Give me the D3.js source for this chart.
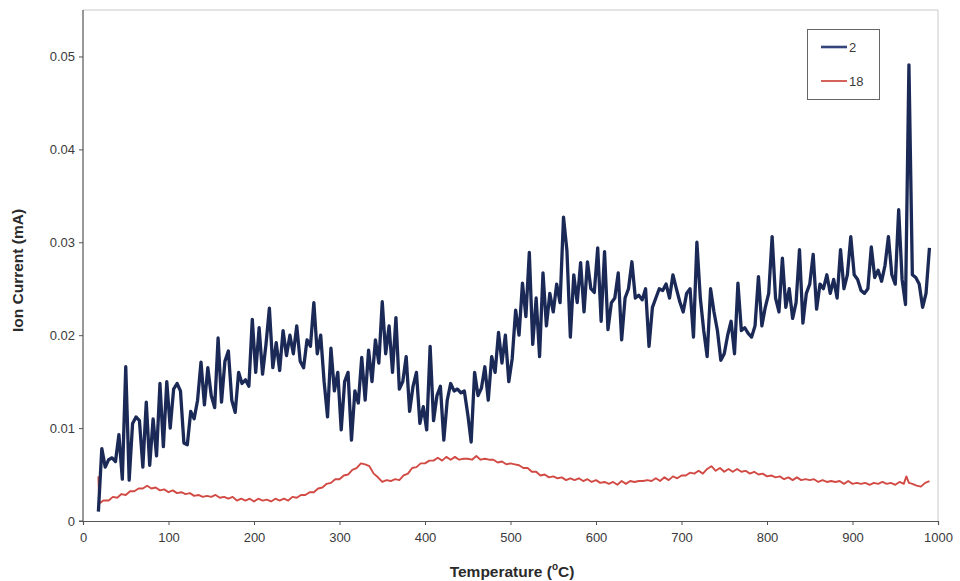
<!DOCTYPE html>
<html>
<head>
<meta charset="utf-8">
<script src="https://cdn.jsdelivr.net/npm/d3@7"></script>
<style>
  html, body { margin: 0; padding: 0; background: #fff; }
  svg { display: block; font-family: "Liberation Sans", Arial, sans-serif; }
</style>
</head>
<body>
<svg id="chart" width="960" height="581"></svg>
<script>
// Ion current traces (mA) versus temperature (°C), mass channels 2 and 18.
const temps2 = [18,22,26,30,34,38,42,46,50,54,58,62,66,70,74,78,82,86,90,94,98,102,106,110,114,118,122,126,130,134,138,142,146,150,154,158,162,166,170,174,178,182,186,190,194,198,202,206,210,214,218,222,226,230,234,238,242,246,250,254,258,262,266,270,274,278,282,286,290,294,298,302,306,310,314,318,322,326,330,334,338,342,346,350,354,358,362,366,370,374,378,382,386,390,394,398,402,406,410,414,418,422,426,430,434,438,442,446,450,454,458,462,466,470,474,478,482,486,490,494,498,502,506,510,514,518,522,526,530,534,538,542,546,550,554,558,562,566,570,574,578,582,586,590,594,598,602,606,610,614,618,622,626,630,634,638,642,646,650,654,658,662,666,670,674,678,682,686,690,694,698,702,706,710,714,718,722,726,730,734,738,742,746,750,754,758,762,766,770,774,778,782,786,790,794,798,802,806,810,814,818,822,826,830,834,838,842,846,850,854,858,862,866,870,874,878,882,886,890,894,898,902,906,910,914,918,922,926,930,934,938,942,946,950,954,958,962,966,970,974,978,982,986,990];

const current2 = [
  .0010,.0078,.0058,.0066,.0068,.0064,.0093,.0045,.0166,.0044,
  .0105,.0112,.0108,.0058,.0128,.0060,.0110,.0070,.0148,.0080,
  .0150,.0100,.0142,.0148,.0140,.0084,.0082,.0118,.0110,.0130,
  .0171,.0125,.0165,.0135,.0122,.0197,.0128,.0172,.0183,.0130,
  .0117,.0160,.0148,.0152,.0145,.0217,.0160,.0208,.0158,.0190,
  .0229,.0165,.0192,.0162,.0205,.0178,.0200,.0180,.0210,.0172,
  .0165,.0195,.0188,.0235,.0180,.0200,.0150,.0112,.0186,.0140,
  .0160,.0098,.0150,.0160,.0087,.0140,.0127,.0176,.0130,.0184,
  .0150,.0195,.0170,.0236,.0180,.0210,.0160,.0219,.0142,.0150,
  .0177,.0118,.0145,.0160,.0105,.0123,.0098,.0188,.0108,.0135,
  .0145,.0087,.0130,.0148,.0140,.0142,.0138,.0140,.0115,.0085,
  .0160,.0135,.0143,.0166,.0130,.0177,.0160,.0203,.0170,.0200,
  .0150,.0175,.0227,.0200,.0256,.0220,.0289,.0190,.0240,.0177,
  .0267,.0210,.0245,.0225,.0255,.0235,.0327,.0291,.0198,.0265,
  .0235,.0278,.0225,.0279,.0250,.0246,.0294,.0215,.0290,.0206,
  .0235,.0240,.0267,.0195,.0240,.0250,.0279,.0240,.0243,.0238,
  .0250,.0188,.0230,.0240,.0250,.0248,.0255,.0240,.0265,.0250,
  .0236,.0225,.0245,.0250,.0198,.0300,.0240,.0205,.0177,.0250,
  .0225,.0205,.0173,.0180,.0200,.0215,.0180,.0256,.0205,.0208,
  .0202,.0198,.0210,.0263,.0210,.0230,.0245,.0306,.0240,.0225,
  .0283,.0230,.0250,.0218,.0235,.0292,.0213,.0245,.0255,.0287,
  .0228,.0255,.0250,.0265,.0245,.0260,.0240,.0292,.0250,.0265,
  .0306,.0265,.0260,.0248,.0245,.0250,.0295,.0262,.0270,.0258,
  .0275,.0306,.0265,.0255,.0335,.0260,.0233,.0491,.0265,.0262,
  .0255,.0230,.0245,.0294
];

const temps18 = [18,19,24,30,35,40,45,50,55,60,65,70,75,80,85,90,95,100,105,110,115,120,125,130,135,140,145,150,155,160,165,170,175,180,185,190,195,200,205,210,215,220,225,230,235,240,245,250,255,260,265,270,275,280,285,290,295,300,305,310,315,320,325,330,335,340,345,350,355,360,365,370,375,380,385,390,395,400,405,410,415,420,425,430,435,440,445,450,455,460,465,470,475,480,485,490,495,500,505,510,515,520,525,530,535,540,545,550,555,560,565,570,575,580,585,590,595,600,605,610,615,620,625,630,635,640,645,650,655,660,665,670,675,680,685,690,695,700,705,710,715,720,725,730,735,740,745,750,755,760,765,770,775,780,785,790,795,800,805,810,815,820,825,830,835,840,845,850,855,860,865,870,875,880,885,890,895,900,905,910,915,920,925,930,935,940,945,950,955,960,963,966,970,975,980,985,990];

const current18 = [
  .0048,.0019,.0022,.0022,.0026,.0025,.0029,.0028,.0032,.0032,
  .0035,.0035,.0038,.0035,.0036,.0033,.0034,.0031,.0033,.0030,
  .0031,.0029,.0030,.0027,.0028,.0026,.0027,.0026,.0028,.0025,
  .0026,.0024,.0026,.0022,.0024,.0022,.0024,.0021,.0024,.0022,
  .0023,.0021,.0024,.0022,.0024,.0022,.0026,.0025,.0028,.0028,
  .0031,.0031,.0035,.0036,.0040,.0041,.0045,.0045,.0049,.0050,
  .0055,.0057,.0062,.0061,.0059,.0051,.0047,.0042,.0044,.0043,
  .0045,.0044,.0049,.0051,.0057,.0058,.0062,.0062,.0065,.0065,
  .0068,.0065,.0069,.0066,.0069,.0066,.0067,.0067,.0066,.0070,
  .0066,.0067,.0066,.0066,.0063,.0064,.0061,.0062,.0061,.0060,
  .0057,.0057,.0053,.0053,.0049,.0050,.0047,.0048,.0046,.0047,
  .0044,.0046,.0044,.0046,.0043,.0045,.0042,.0044,.0041,.0042,
  .0040,.0042,.0039,.0043,.0040,.0043,.0042,.0043,.0043,.0044,
  .0043,.0046,.0043,.0047,.0044,.0048,.0046,.0049,.0049,.0052,
  .0051,.0054,.0051,.0056,.0059,.0054,.0057,.0053,.0056,.0053,
  .0056,.0053,.0054,.0051,.0053,.0050,.0051,.0048,.0049,.0047,
  .0048,.0045,.0047,.0044,.0047,.0044,.0045,.0044,.0045,.0042,
  .0044,.0042,.0043,.0042,.0043,.0040,.0043,.0040,.0041,.0040,
  .0041,.0039,.0041,.0040,.0042,.0040,.0041,.0039,.0042,.0040,
  .0048,.0041,.0040,.0038,.0037,.0041,.0043
];

const xTicks = [0,100,200,300,400,500,600,700,800,900,1000];
const yTicks = [0,0.01,0.02,0.03,0.04,0.05];
const seriesNames = ["2","18"];
const seriesColors = ["#1b2957","#d24a44"];

const svg = d3.select("#chart");
const m = { left: 83, right: 938, top: 10, bottom: 521 };

const x = d3.scaleLinear().domain([0, 1000]).range([m.left, m.right]);
const y = d3.scaleLinear().domain([0, 0.055]).range([m.bottom, m.top]);

// light frame on the top and right of the plot area
svg.append("path")
  .attr("d", `M${m.left},${m.top}H${m.right}V${m.bottom}`)
  .attr("fill", "none").attr("stroke", "#c8c8c8").attr("stroke-width", 1);

const line = d3.line().x(d => x(d[0])).y(d => y(d[1]));

const data18 = temps18.map((t, i) => [t, current18[i]]).filter(d => d[1] != null);
const data2 = temps2.map((t, i) => [t, current2[i]]).filter(d => d[1] != null);

svg.append("path").datum(data18)
  .attr("d", line).attr("fill", "none")
  .attr("stroke", seriesColors[1]).attr("stroke-width", 1.9)
  .attr("stroke-linejoin", "round");

svg.append("path").datum(data2)
  .attr("d", line).attr("fill", "none")
  .attr("stroke", seriesColors[0]).attr("stroke-width", 3.3)
  .attr("stroke-linejoin", "round");

// axes
const axisColor = "#555";
const yAxis = svg.append("g").attr("transform", `translate(${m.left},0)`)
  .call(d3.axisLeft(y).tickValues(yTicks).tickSize(4).tickPadding(4)
    .tickFormat(d => d === 0 ? "0" : d3.format(".2f")(d)));
const xAxis = svg.append("g").attr("transform", `translate(0,${m.bottom})`)
  .call(d3.axisBottom(x).tickValues(xTicks).tickSize(4).tickPadding(8)
    .tickFormat(d3.format("d")));
[yAxis, xAxis].forEach(g => {
  g.select(".domain").attr("stroke", axisColor).attr("stroke-width", 1.2);
  g.selectAll(".tick line").attr("stroke", axisColor);
  g.selectAll(".tick text").attr("fill", "#3a3a3a")
    .style("font-size", "13px").style("font-family", "'Liberation Sans', Arial, sans-serif");
});
yAxis.select(".domain").attr("d", `M-4,${m.bottom}H0V${m.top}`);

// axis titles
svg.append("text")
  .attr("transform", `translate(23,${(m.top + m.bottom) / 2 + 5}) rotate(-90)`)
  .attr("text-anchor", "middle")
  .style("font-size", "15.5px").style("font-weight", "bold").attr("fill", "#2a2a2a")
  .text("Ion Current (mA)");

const xt = svg.append("text")
  .attr("x", 512).attr("y", 577).attr("text-anchor", "middle")
  .style("font-size", "15.5px").style("font-weight", "bold").attr("fill", "#2a2a2a");
xt.append("tspan").text("Temperature (");
xt.append("tspan").attr("dy", -7).style("font-size", "10px").text("o");
xt.append("tspan").attr("dy", 7).text("C)");

// legend
const lg = svg.append("g");
lg.append("rect").attr("x", 807.5).attr("y", 29.5).attr("width", 72).attr("height", 70)
  .attr("fill", "#fff").attr("stroke", "#666").attr("stroke-width", 1);
seriesNames.forEach((name, i) => {
  const ly = 47 + i * 34;
  lg.append("line").attr("x1", 821).attr("x2", 847).attr("y1", ly).attr("y2", ly)
    .attr("stroke", i === 0 ? "#34457c" : "#d6625c").attr("stroke-width", i === 0 ? 2.6 : 2);
  lg.append("text").attr("x", 849).attr("y", ly + 5)
    .style("font-size", "13px").attr("fill", "#3a3a3a").text(name);
});
</script>
</body>
</html>
